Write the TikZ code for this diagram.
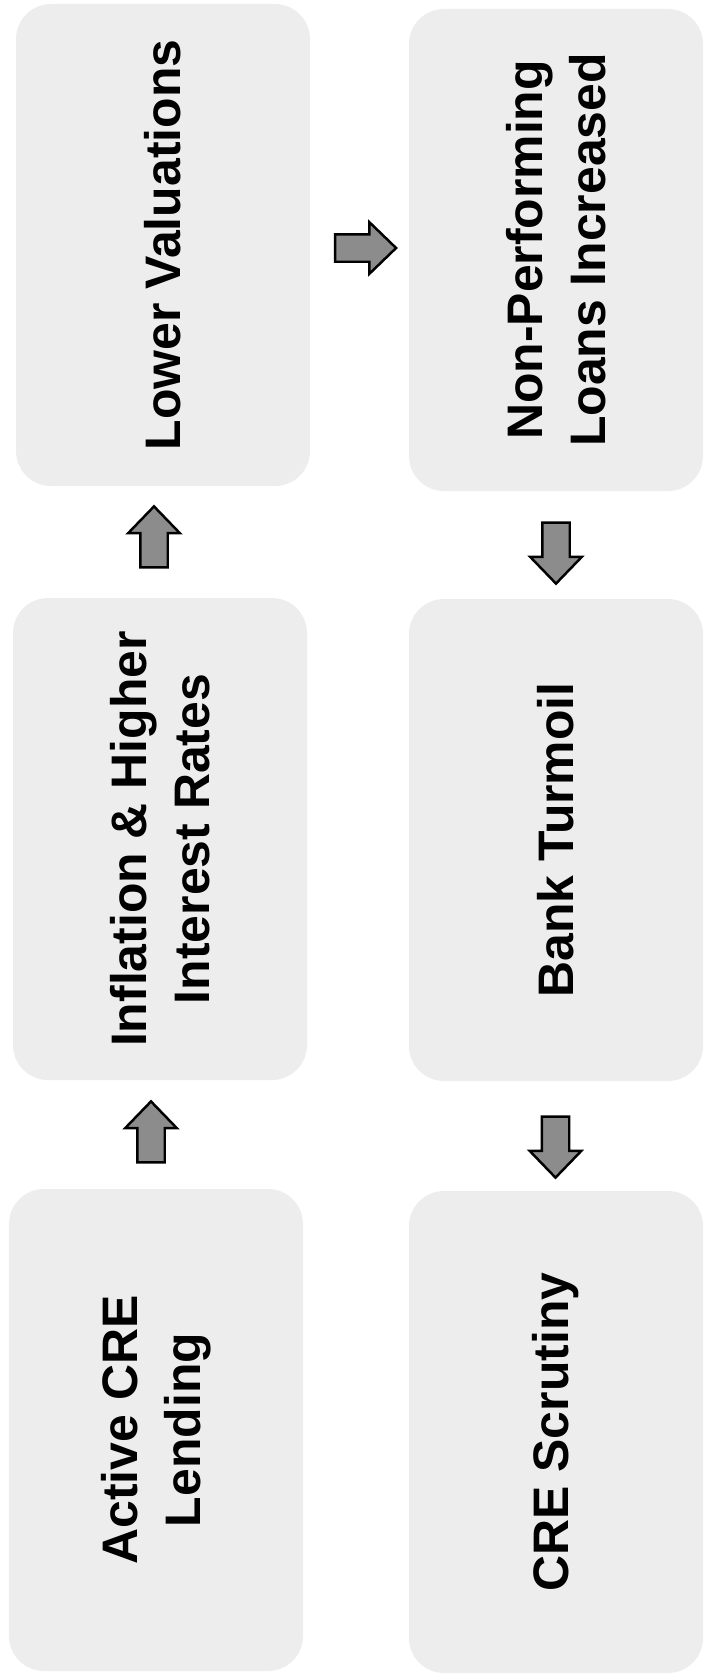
\documentclass[tikz,border=0pt]{standalone}
\usepackage{fontspec}
\setmainfont{Liberation Sans}
\usetikzlibrary{shapes.arrows}

\begin{document}
\begin{tikzpicture}[
  stage/.style={fill=black!7, rounded corners=0.35cm, rotate=90, inner sep=0,
    minimum width=4.82cm, minimum height=2.94cm, align=center,
    font=\fontsize{14.2}{17.9}\selectfont\bfseries},
  blockarrow/.style={single arrow, draw=black, line width=0.7pt, fill=black!45,
    inner xsep=0, inner ysep=0.125cm, minimum height=0.61cm,
    single arrow head extend=0.12cm, single arrow tip angle=88}
]
  \useasboundingbox (0, 0) rectangle (7.05, -16.74);

  % Left: build-up, read from the bottom
  \node[stage] (active) at (1.56, -14.30) {Active CRE\\Lending};
  \node[stage] (infl) at (1.60, -8.39) {Inflation \& Higher\\Interest Rates};
  \node[stage] (lower) at (1.63, -2.45) {Lower Valuations};
  \node[blockarrow, rotate=90] (upa) at (1.51, -11.39) {};
  \node[blockarrow, rotate=90] (upb) at (1.54, -5.44) {};

  % Across the top
  \node[blockarrow] (across) at (3.585, -2.48) {};

  % Right: fallout, read from the top
  \node[stage] (npl) at (5.56, -2.50) {Non-Performing\\Loans Increased};
  \node[stage] (turmoil) at (5.56, -8.40) {Bank Turmoil};
  \node[stage] (scrutiny) at (5.56, -14.32) {CRE Scrutiny};
  \node[blockarrow, rotate=-90] (downa) at (5.56, -5.46) {};
  \node[blockarrow, rotate=-90] (downb) at (5.555, -11.40) {};
\end{tikzpicture}
\end{document}
